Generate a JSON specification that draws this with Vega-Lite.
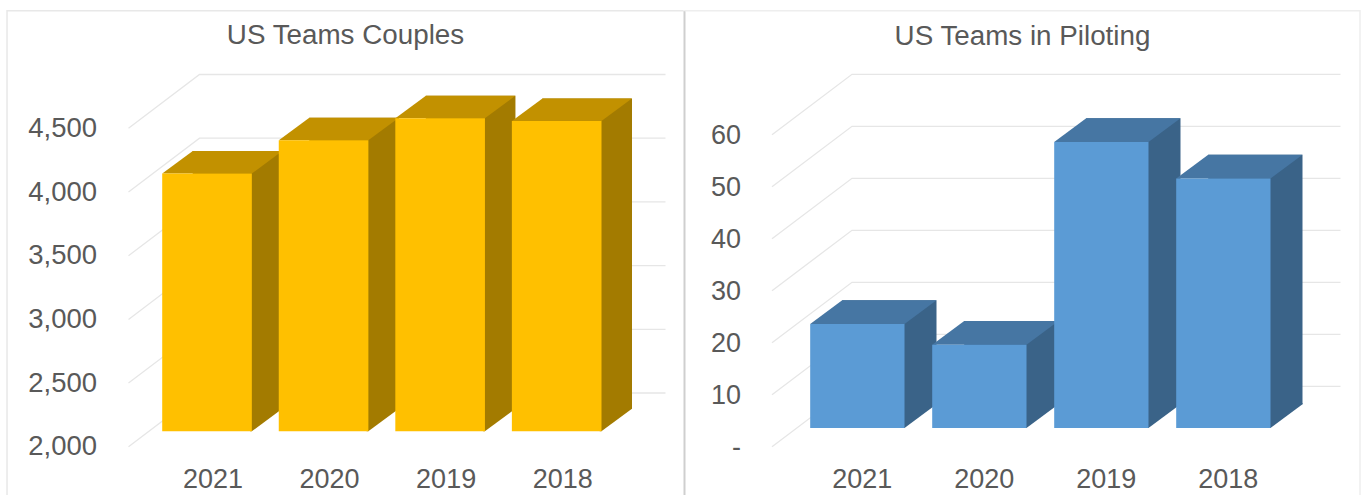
{
"$schema":"https://vega.github.io/schema/vega-lite/v6.json",
"background":"white",
"padding":{"left":3.5,"top":6.3,"right":0,"bottom":0},
"spacing":0,
"bounds":"flush",
"config":{"view":{"stroke":null},"font":"Liberation Sans",
"axis":{"domain":false,"ticks":false,"tickSize":0,"grid":false,"labelFont":"Liberation Sans","labelFontSize":27,"labelColor":"#595959","title":null,"labelBaseline":"middle","labelOverlap":false,"labelBound":false,"labelFlush":false},
"title":{"font":"Liberation Sans","fontSize":27.8,"fontWeight":"normal","color":"#595959","baseline":"middle","anchor":"middle"}},
"datasets":{
"couples":[{"year":"2021","teams":4023},{"year":"2020","teams":4284},{"year":"2019","teams":4457},{"year":"2018","teams":4435}],
"piloting":[{"year":"2021","teams":20},{"year":"2020","teams":16},{"year":"2019","teams":55},{"year":"2018","teams":48}],
"ticksA":[{"tick":2000},{"tick":2500},{"tick":3000},{"tick":3500},{"tick":4000},{"tick":4500}],
"ticksB":[{"tick":0},{"tick":10},{"tick":20},{"tick":30},{"tick":40},{"tick":50},{"tick":60}],
"panel":[{"panel":"frame"}]
},
"hconcat":[
{"width":678,"height":485,
"title":{"text":"US Teams Couples","offset":-43},
"layer":[
{"data":{"name":"panel"},"mark":{"type":"point","filled":false,"opacity":1,"size":4,"stroke":"#E8E8E8","strokeWidth":1.5,"shape":"M-338.5 246 L-338.5 -242 L338 -242"},"encoding":{}},
{"data":{"name":"panel"},"mark":{"type":"point","filled":false,"opacity":1,"size":4,"stroke":"#CFCFCF","strokeWidth":2,"shape":"M339 246 L339 -242"},"encoding":{}},
{"data":{"name":"ticksA"},"mark":{"type":"point","filled":false,"opacity":1,"size":4,"stroke":"#E6E6E6","strokeWidth":1.3,"shape":"M-217 15.5 L-146 -38.3 L320 -38.3"},
"encoding":{"y":{"field":"tick","type":"quantitative","scale":{"domain":[2000,4500],"range":[421,102.5],"zero":false,"nice":false},
"axis":{"values":[2000,2500,3000,3500,4000,4500],"labelExpr":"format(datum.value,',')","labelFontSize":27.5,"labelPadding":-90,"labelOffset":15.7}}}},
{"data":{"name":"couples"},"mark":{"type":"bar","color":"#A37B00","xOffset":30.5,"yOffset":-22.5,"y2Offset":-22.5},
"encoding":{"x":{"field":"year","type":"nominal","sort":null,"scale":{"range":[155.7,595],"paddingInner":0.231,"paddingOuter":0},
"axis":{"labelAngle":0,"labelPadding":-16,"labelOffset":6}},
"y":{"field":"teams","type":"quantitative"},"y2":{"datum":2000}}},
{"data":{"name":"couples"},"mark":{"type":"point","filled":true,"opacity":1,"size":4,"color":"#A37B00","shape":"M43 0 L44.75 0 L75.25 -22.5 L75.25 -24 L43 -24 Z"},
"encoding":{"x":{"field":"year","type":"nominal","sort":null},"y":{"datum":2000,"type":"quantitative"}}},
{"data":{"name":"couples"},"mark":{"type":"point","filled":true,"opacity":1,"size":4,"color":"#C29100","shape":"M-44.75 0 L-14.25 -22.5 L75.25 -22.5 L44.75 0 Z"},
"encoding":{"x":{"field":"year","type":"nominal","sort":null},"y":{"field":"teams","type":"quantitative"}}},
{"data":{"name":"couples"},"mark":{"type":"bar","color":"#FFC000"},
"encoding":{"x":{"field":"year","type":"nominal","sort":null},"y":{"field":"teams","type":"quantitative"},"y2":{"datum":2000}}}
]},
{"width":676,"height":485,
"title":{"text":"US Teams in Piloting","offset":-43},
"layer":[
{"data":{"name":"panel"},"mark":{"type":"point","filled":false,"opacity":1,"size":4,"stroke":"#EEEEEE","strokeWidth":1.5,"shape":"M-338 -242 L337.5 -242 L337.5 246"},"encoding":{}},
{"data":{"name":"ticksB"},"mark":{"type":"point","filled":false,"opacity":1,"size":4,"stroke":"#E6E6E6","strokeWidth":1.3,"shape":"M-250.5 18.7 L-170.5 -41.7 L318 -41.7"},
"encoding":{"y":{"field":"tick","type":"quantitative","scale":{"domain":[0,60],"range":[417.7,105.7],"zero":false,"nice":false},
"axis":{"values":[0,10,20,30,40,50,60],"labelExpr":"datum.value==0?'-\u00a0\u00a0':format(datum.value,'d')","labelPadding":-56,"labelOffset":19.5}}}},
{"data":{"name":"piloting"},"mark":{"type":"bar","color":"#3A6388","xOffset":32,"yOffset":-23.7,"y2Offset":-23.7},
"encoding":{"x":{"field":"year","type":"nominal","sort":null,"scale":{"range":[125.7,586],"paddingInner":0.227,"paddingOuter":0},
"axis":{"labelAngle":0,"labelPadding":-16,"labelOffset":5}},
"y":{"field":"teams","type":"quantitative"},"y2":{"datum":0}}},
{"data":{"name":"piloting"},"mark":{"type":"point","filled":true,"opacity":1,"size":4,"color":"#3A6388","shape":"M45 0 L47.15 0 L79.15 -23.7 L79.15 -25 L45 -25 Z"},
"encoding":{"x":{"field":"year","type":"nominal","sort":null},"y":{"datum":0,"type":"quantitative"}}},
{"data":{"name":"piloting"},"mark":{"type":"point","filled":true,"opacity":1,"size":4,"color":"#4676A3","shape":"M-47.15 0 L-15.15 -23.7 L79.15 -23.7 L47.15 0 Z"},
"encoding":{"x":{"field":"year","type":"nominal","sort":null},"y":{"field":"teams","type":"quantitative"}}},
{"data":{"name":"piloting"},"mark":{"type":"bar","color":"#5B9BD5"},
"encoding":{"x":{"field":"year","type":"nominal","sort":null},"y":{"field":"teams","type":"quantitative"},"y2":{"datum":0}}}
]}
]
}
